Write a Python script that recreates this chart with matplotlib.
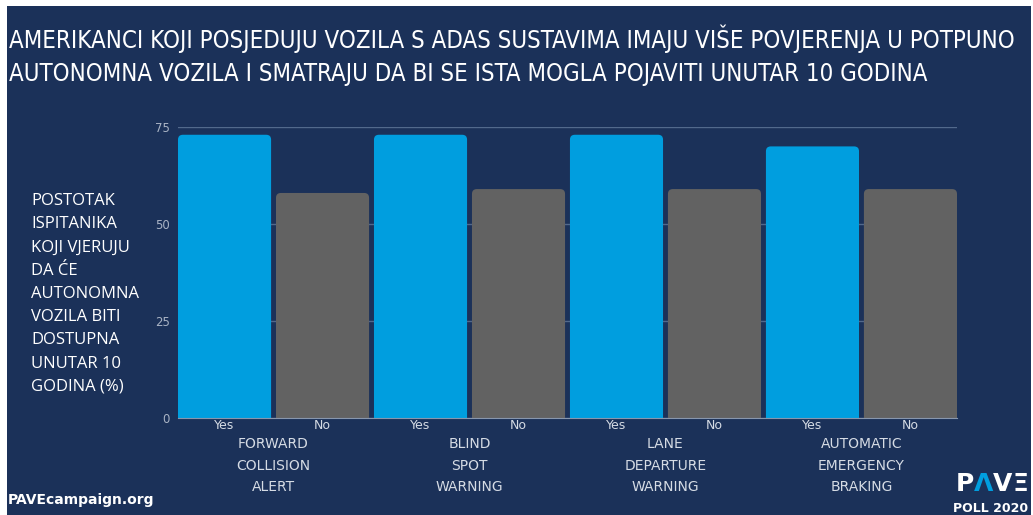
import numpy as np
import matplotlib.pyplot as plt
from matplotlib.patches import FancyBboxPatch, Rectangle

# podaci
kategorije = ["FORWARD\nCOLLISION\nALERT", "BLIND\nSPOT\nWARNING",
              "LANE\nDEPARTURE\nWARNING", "AUTOMATIC\nEMERGENCY\nBRAKING"]
odgovori = ["Yes", "No"]
da_vrijednosti = [73, 73, 73, 70]
ne_vrijednosti = [58, 59, 59, 59]
y_ticks = [0, 25, 50, 75]

naslov = ("AMERIKANCI KOJI POSJEDUJU VOZILA S ADAS SUSTAVIMA IMAJU VIŠE POVJERENJA U POTPUNO\n"
          "AUTONOMNA VOZILA I SMATRAJU DA BI SE ISTA MOGLA POJAVITI UNUTAR 10 GODINA")
y_naslov = "POSTOTAK\nISPITANIKA\nKOJI VJERUJU\nDA ĆE\nAUTONOMNA\nVOZILA BITI\nDOSTUPNA\nUNUTAR 10\nGODINA (%)"

navy = "#1b3159"
plava = "#009edf"
siva = "#626262"

W, H = 1033, 515
fig = plt.figure(figsize=(W / 100, H / 100), dpi=100, facecolor="white")
fig.patches.append(Rectangle((7 / W, 0), (1031 - 7) / W, (H - 6) / H,
                             transform=fig.transFigure, facecolor=navy,
                             edgecolor="none", zorder=-10))

ax = fig.add_axes([178 / W, (H - 418) / H, (957 - 178) / W, (418 - 127) / H])
ax.patch.set_alpha(0)

vrijednosti = []
boje = []
for d, n in zip(da_vrijednosti, ne_vrijednosti):
    vrijednosti += [d, n]
    boje += [plava, siva]
x = np.arange(len(vrijednosti))
sirina = 0.95

ax.set_xlim(-sirina / 2, len(x) - 1 + sirina / 2)
ax.set_ylim(0, 75)

# zaobljeni stupci
aspekt = (75 / 291) / (1 / 97.4)
for xi, v, c in zip(x, vrijednosti, boje):
    p = FancyBboxPatch((xi - sirina / 2, -3), sirina, v + 3,
                       boxstyle="round,pad=0,rounding_size=0.05",
                       mutation_aspect=aspekt, facecolor=c,
                       edgecolor="none", zorder=3)
    ax.add_patch(p)

ax.set_yticks(y_ticks)
ax.set_yticklabels([str(t) for t in y_ticks], color="#a9b3c4", fontsize=8.5,
                   family="DejaVu Sans")
ax.tick_params(axis="y", length=0, pad=6)
ax.grid(axis="y", color="#52698c", linewidth=1, zorder=0)
ax.set_axisbelow(True)
for s in ["top", "right", "left"]:
    ax.spines[s].set_visible(False)
ax.spines["bottom"].set_color("#8796ad")
ax.spines["bottom"].set_zorder(4)

ax.set_xticks(x)
ax.set_xticklabels([odgovori[i % 2] for i in x], color="#d5dbe4", fontsize=9,
                   family="DejaVu Sans")
ax.tick_params(axis="x", length=0, pad=1)

for i, k in enumerate(kategorije):
    ax.text(2 * i + 0.5, -0.065, k, transform=ax.get_xaxis_transform(),
            ha="center", va="top", color="#d5dbe4", fontsize=10,
            family="DejaVu Sans", linespacing=1.7)

fig.text(9 / W, 1 - 55 / H, naslov, ha="left", va="center", color="white",
         fontsize=17.2, family="DejaVu Sans", fontstretch="condensed",
         linespacing=1.46)

fig.text(31 / W, 1 - 294 / H, y_naslov, ha="left", va="center", color="white",
         fontsize=12, family=["Open Sans", "DejaVu Sans"], linespacing=1.6)

fig.text(8 / W, 1 - 500 / H, "PAVEcampaign.org", ha="left", va="center",
         color="white", fontsize=10, fontweight="bold", family="DejaVu Sans")

# logo
for znak, xp, c in [("P", 965, "white"), ("Λ", 984, plava),
                    ("V", 1003, "white"), ("Ξ", 1020, "white")]:
    fig.text(xp / W, 1 - 484 / H, znak, ha="center", va="center", color=c,
             fontsize=18, fontweight="heavy", family="DejaVu Sans")
fig.text(991 / W, 1 - 509 / H, "POLL 2020", ha="center", va="center",
         color="white", fontsize=9, fontweight="bold", family="DejaVu Sans")

fig.savefig("out.png", dpi=100, facecolor=fig.get_facecolor())
